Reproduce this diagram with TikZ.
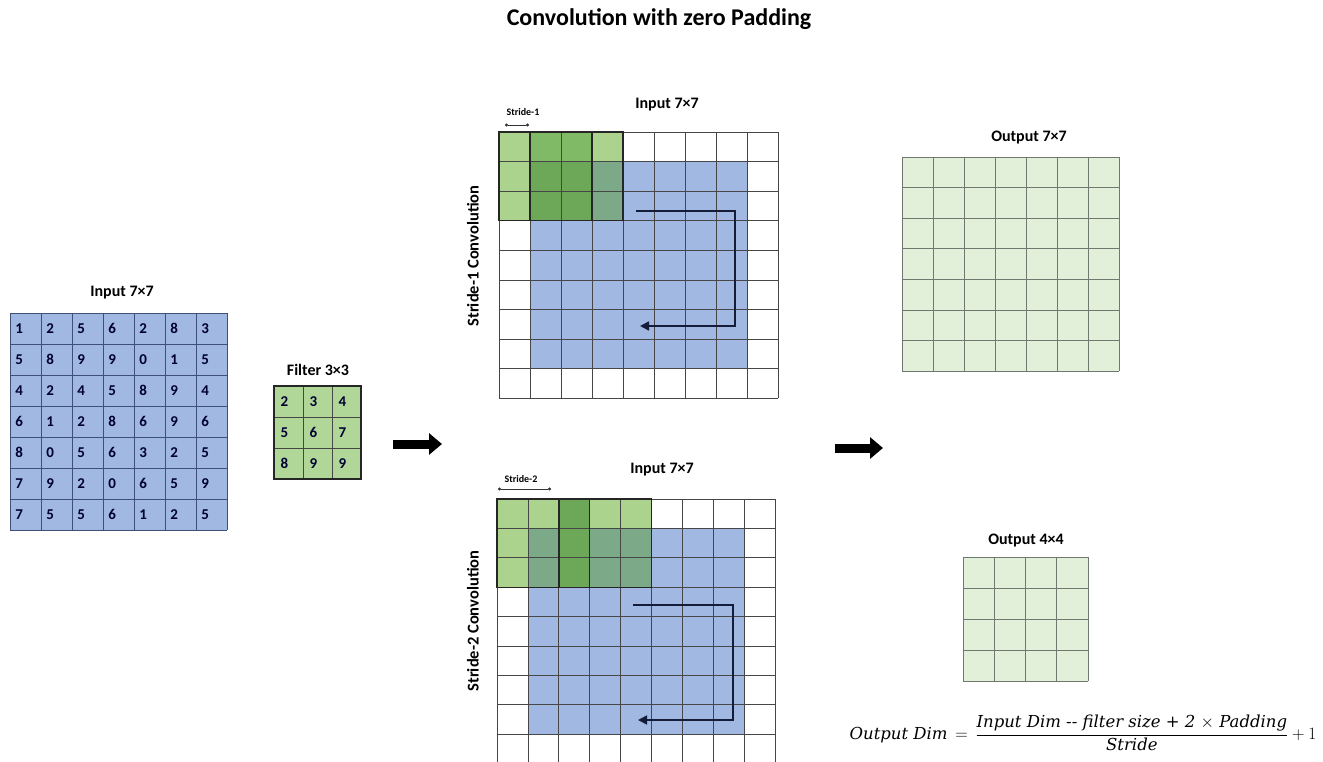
\documentclass[tikz,border=0pt]{standalone}
\usepackage{fontspec}
\setmainfont{Carlito}
\newfontfamily\formulafont{DejaVu Serif}
\usetikzlibrary{arrows.meta}

\definecolor{cellblue}{RGB}{160,184,226}
\definecolor{gridblue}{RGB}{62,80,120}
\definecolor{filtergreen}{RGB}{176,214,152}
\definecolor{outgreen}{RGB}{226,240,218}
\definecolor{lightgreen}{RGB}{172,211,142}
\definecolor{midgreen}{RGB}{128,186,102}
\definecolor{darkgreen}{RGB}{108,168,88}
\definecolor{tealgreen}{RGB}{124,170,136}
\definecolor{gridgray}{RGB}{70,70,70}
\definecolor{outline}{RGB}{110,120,110}
\definecolor{pathnavy}{RGB}{20,28,58}

\tikzset{
  caption/.style={font=\bfseries\fontsize{16}{19}\selectfont, inner sep=0pt},
  digit/.style={anchor=west, inner sep=0pt, font=\bfseries\fontsize{15}{17}\selectfont, text=black!80!blue},
  sidelabel/.style={rotate=90, inner sep=0pt, font=\bfseries\fontsize{16.5}{19}\selectfont},
  stridelabel/.style={inner sep=0pt, font=\bfseries\fontsize{10}{11}\selectfont},
  gridline/.style={draw=gridgray, line width=0.7pt},
  inline/.style={draw=gridblue, line width=0.8pt},
  outline grid/.style={draw=outline, line width=0.8pt},
  filterframe/.style={draw=black!85, line width=1.4pt},
  scanpath/.style={draw=pathnavy, line width=1.6pt, -{Triangle[length=9pt,width=9pt]}},
  bigarrow/.style={draw=black, line width=9pt, -{Triangle[length=13pt,width=21pt]}},
  dimline/.style={draw=black!80, line width=0.7pt, {Circle[length=3pt]}-{Circle[length=3pt]}}
}

\begin{document}
\begin{tikzpicture}[x=1pt,y=-1pt]
\useasboundingbox (0,0) rectangle (1323,762);
\fill[white] (0,0) rectangle (1323,762);

% title
\node[font=\bfseries\fontsize{24}{28}\selectfont, inner sep=0pt] (title) at (659,19) {Convolution with zero Padding};

% ---------- input matrix ----------
\node[caption] (incap) at (122,293) {Input 7×7};
\begin{scope}[shift={(10pt,-313pt)}, x=31pt, y=-31pt]
  \fill[cellblue] (0,0) rectangle (7,7);
  \foreach \k in {0,...,7} {
    \draw[inline] (\k,0) -- (\k,7);
    \draw[inline] (0,\k) -- (7,\k);
  }
  \foreach \row [count=\r from 0] in {{1,2,5,6,2,8,3},{5,8,9,9,0,1,5},{4,2,4,5,8,9,4},{6,1,2,8,6,9,6},{8,0,5,6,3,2,5},{7,9,2,0,6,5,9},{7,5,5,6,1,2,5}} {
    \foreach \v [count=\c from 0] in \row {
      \node[digit] (in-\r-\c) at (\c+0.17,\r+0.5) {\v};
    }
  }
\end{scope}

% ---------- filter ----------
\node[caption] (filtcap) at (318,370) {Filter 3×3};
\begin{scope}[shift={(274pt,-386pt)}, x=29pt, y=-31pt]
  \fill[filtergreen] (0,0) rectangle (3,3);
  \foreach \k in {1,2} {
    \draw[gridline] (\k,0) -- (\k,3);
    \draw[gridline] (0,\k) -- (3,\k);
  }
  \draw[filterframe] (0,0) rectangle (3,3);
  \foreach \row [count=\r from 0] in {{2,3,4},{5,6,7},{8,9,9}} {
    \foreach \v [count=\c from 0] in \row {
      \node[digit] (f-\r-\c) at (\c+0.22,\r+0.5) {\v};
    }
  }
\end{scope}

% ---------- stride-1 padded input ----------
\node[caption] (topcap) at (667,105) {Input 7×7};
\node[sidelabel] (topside) at (473,256) {Stride-1 Convolution};
\node[stridelabel] (s1lab) at (523,112) {Stride-1};
\coordinate (s1a) at (505,125);
\coordinate (s1b) at (529,125);
\draw[dimline] (s1a) -- (s1b);
\begin{scope}[shift={(499pt,-132pt)}, x=31pt, y=-29.6pt]
  \fill[cellblue] (1,1) rectangle (8,8);
  \fill[lightgreen] (0,0) rectangle (1,3);
  \fill[lightgreen] (3,0) rectangle (4,1);
  \fill[midgreen] (1,0) rectangle (3,1);
  \fill[darkgreen] (1,1) rectangle (3,3);
  \fill[tealgreen] (3,1) rectangle (4,3);
  \foreach \k in {0,...,9} {
    \draw[gridline] (\k,0) -- (\k,9);
    \draw[gridline] (0,\k) -- (9,\k);
  }
  \draw[filterframe] (0,0) rectangle (3,3);
  \draw[filterframe] (1,0) rectangle (4,3);
\end{scope}
\coordinate (p1a) at (636,211);
\coordinate (p1b) at (735,211);
\coordinate (p1c) at (735,326);
\coordinate (p1d) at (640,326);
\draw[scanpath] (p1a) -- (p1b) -- (p1c) -- (p1d);

% ---------- stride-2 padded input ----------
\node[caption] (botcap) at (662,470) {Input 7×7};
\node[sidelabel] (botside) at (473,621) {Stride-2 Convolution};
\node[stridelabel] (s2lab) at (521,479) {Stride-2};
\coordinate (s2a) at (498,489);
\coordinate (s2b) at (551,489);
\draw[dimline] (s2a) -- (s2b);
\begin{scope}[shift={(497pt,-499pt)}, x=30.9pt, y=-29.4pt]
  \fill[cellblue] (1,1) rectangle (8,8);
  \fill[lightgreen] (0,0) rectangle (2,1);
  \fill[lightgreen] (0,1) rectangle (1,3);
  \fill[tealgreen] (1,1) rectangle (2,3);
  \fill[darkgreen] (2,0) rectangle (3,3);
  \fill[lightgreen] (3,0) rectangle (5,1);
  \fill[tealgreen] (3,1) rectangle (5,3);
  \foreach \k in {0,...,9} {
    \draw[gridline] (\k,0) -- (\k,9);
    \draw[gridline] (0,\k) -- (9,\k);
  }
  \draw[filterframe] (0,0) rectangle (3,3);
  \draw[filterframe] (2,0) rectangle (5,3);
\end{scope}
\coordinate (p2a) at (633,605);
\coordinate (p2b) at (733,605);
\coordinate (p2c) at (733,720);
\coordinate (p2d) at (638,720);
\draw[scanpath] (p2a) -- (p2b) -- (p2c) -- (p2d);

% ---------- big arrows ----------
\coordinate (ar1a) at (393,444);
\coordinate (ar1b) at (442,444);
\draw[bigarrow] (ar1a) -- (ar1b);
\coordinate (ar2a) at (835,448);
\coordinate (ar2b) at (883,448);
\draw[bigarrow] (ar2a) -- (ar2b);

% ---------- outputs ----------
\node[caption] (out7cap) at (1029,138) {Output 7×7};
\begin{scope}[shift={(902pt,-157pt)}, x=31pt, y=-30.6pt]
  \fill[outgreen] (0,0) rectangle (7,7);
  \foreach \k in {0,...,7} {
    \draw[outline grid] (\k,0) -- (\k,7);
    \draw[outline grid] (0,\k) -- (7,\k);
  }
\end{scope}

\node[caption] (out4cap) at (1026,541) {Output 4×4};
\begin{scope}[shift={(963pt,-557pt)}, x=31.25pt, y=-31pt]
  \fill[outgreen] (0,0) rectangle (4,4);
  \foreach \k in {0,...,4} {
    \draw[outline grid] (\k,0) -- (\k,4);
    \draw[outline grid] (0,\k) -- (4,\k);
  }
\end{scope}

% ---------- formula ----------
\node[inner sep=0pt, font=\fontsize{16.5}{20}\selectfont] (formula) at (1083,733)
  {$\displaystyle \mbox{\formulafont\itshape Output Dim}\,=\,\frac{\mbox{\formulafont\itshape Input Dim -- filter size + 2 $\times$ Padding}}{\mbox{\formulafont\itshape Stride}} + 1$};

\end{tikzpicture}
\end{document}
